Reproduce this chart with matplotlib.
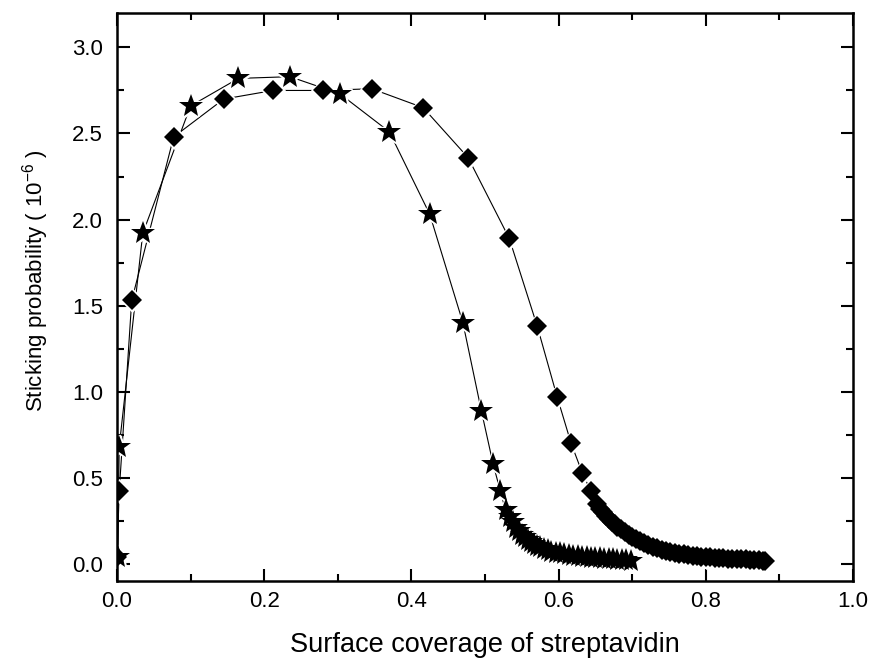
import numpy as np
import matplotlib.pyplot as plt

plt.rcParams['font.family'] = ['Liberation Sans', 'DejaVu Sans']
plt.rcParams['mathtext.fontset'] = 'custom'
plt.rcParams['mathtext.rm'] = 'Liberation Sans'
plt.rcParams['mathtext.it'] = 'Liberation Sans'

# diamond series (sticking probability in 1e-6)
dia_x = [0.0, 0.003, 0.02, 0.077, 0.145, 0.212, 0.280, 0.346, 0.416, 0.477,
         0.533, 0.571, 0.598, 0.617, 0.632, 0.644, 0.652, 0.656, 0.660, 0.664,
         0.668, 0.672, 0.676, 0.680, 0.685, 0.690, 0.695, 0.700, 0.705, 0.710,
         0.716, 0.722, 0.728, 0.734, 0.740, 0.746, 0.752, 0.758, 0.764, 0.770,
         0.776, 0.782, 0.788, 0.794, 0.800, 0.806, 0.812, 0.818, 0.824, 0.830,
         0.836, 0.842, 0.848, 0.854, 0.860, 0.866, 0.872, 0.878, 0.880]
dia_y = [0.04, 0.42, 1.53, 2.48, 2.70, 2.75, 2.75, 2.76, 2.65, 2.36,
         1.89, 1.38, 0.97, 0.70, 0.53, 0.42, 0.35, 0.32, 0.30, 0.28,
         0.26, 0.245, 0.23, 0.215, 0.20, 0.185, 0.17, 0.155, 0.145, 0.135,
         0.12, 0.11, 0.10, 0.09, 0.082, 0.075, 0.069, 0.064, 0.059, 0.055,
         0.051, 0.048, 0.045, 0.042, 0.040, 0.038, 0.036, 0.034, 0.032, 0.030,
         0.029, 0.027, 0.026, 0.025, 0.024, 0.022, 0.021, 0.019, 0.018]

# star series
star_x = [0.001, 0.003, 0.035, 0.100, 0.165, 0.235, 0.303, 0.370, 0.425, 0.470,
          0.495, 0.511, 0.521, 0.528, 0.534, 0.538, 0.542, 0.546, 0.550, 0.554,
          0.558, 0.562, 0.566, 0.570, 0.575, 0.580, 0.585, 0.590, 0.596, 0.602,
          0.608, 0.614, 0.620, 0.626, 0.632, 0.638, 0.644, 0.650, 0.656, 0.662,
          0.668, 0.674, 0.680, 0.686, 0.692, 0.698]
star_y = [0.04, 0.68, 1.92, 2.66, 2.82, 2.83, 2.73, 2.51, 2.03, 1.40,
          0.89, 0.58, 0.42, 0.31, 0.27, 0.24, 0.21, 0.19, 0.17, 0.155,
          0.14, 0.128, 0.116, 0.105, 0.095, 0.086, 0.078, 0.071, 0.065, 0.060,
          0.055, 0.051, 0.047, 0.044, 0.041, 0.038, 0.036, 0.034, 0.032, 0.030,
          0.028, 0.026, 0.024, 0.022, 0.020, 0.015]

fig = plt.figure(figsize=(8.73, 6.64), dpi=100)
ax = fig.add_axes([117/873, 1-581/664, (853-117)/873, (581-13)/664])

# lines first, then white halos to make the gaps, then the markers
ax.plot(dia_x, dia_y, '-', color='black', lw=0.8)
ax.plot(star_x, star_y, '-', color='black', lw=0.8)
ax.plot(dia_x, dia_y, 'D', ms=10, mfc='black', mec='white', mew=2.5)
ax.plot(star_x, star_y, '*', ms=18, mfc='black', mec='white', mew=2.5)
ax.plot(dia_x, dia_y, 'D', ms=10, color='black', mew=0)
ax.plot(star_x, star_y, '*', ms=18, color='black', mew=0)

ax.set_xlim(0, 1.0)
ax.set_ylim(-0.1, 3.2)
ax.set_xticks(np.arange(0, 1.01, 0.2))
ax.set_xticks(np.arange(0, 1.01, 0.1), minor=True)
ax.set_yticks(np.arange(0, 3.01, 0.5))
ax.set_yticks(np.arange(0, 3.01, 0.25), minor=True)
ax.xaxis.set_major_formatter(plt.FormatStrFormatter('%.1f'))
ax.yaxis.set_major_formatter(plt.FormatStrFormatter('%.1f'))
ax.tick_params(which='both', direction='in', top=True, right=True,
               labeltop=False, labelright=False, width=1.5, labelsize=16)
ax.tick_params(which='major', length=9, pad=10)
ax.tick_params(axis='x', which='major', pad=7)
ax.tick_params(which='minor', length=5)
for s in ax.spines.values():
    s.set_linewidth(1.8)

ax.set_xlabel('Surface coverage of streptavidin', fontsize=19.5)
ax.set_ylabel('Sticking probability ( 10$^{-6}$ )', fontsize=16)
ax.xaxis.set_label_coords(0.5, -0.09)
ax.yaxis.set_label_coords(-0.09, 0.528)

fig.savefig('out.png', dpi=100)
